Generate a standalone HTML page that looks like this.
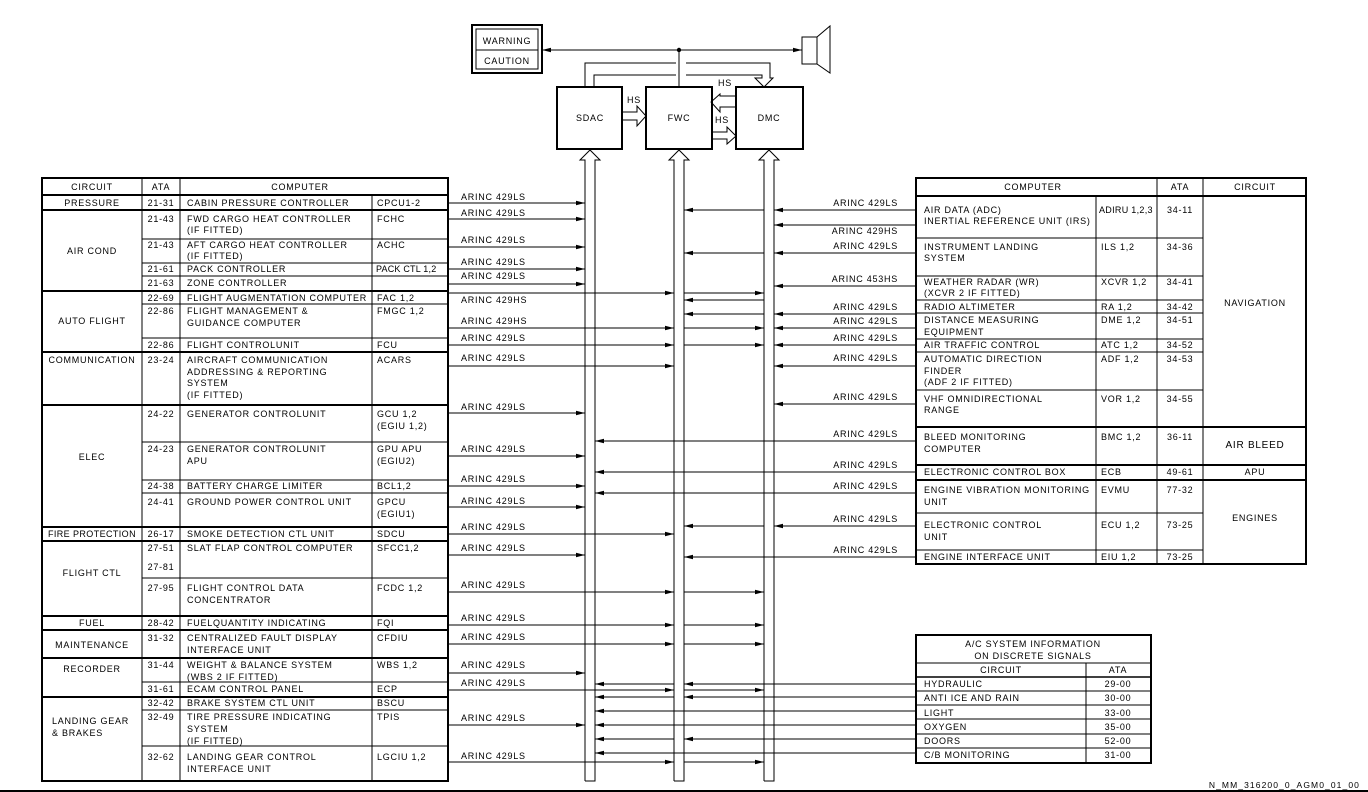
<!DOCTYPE html>
<html><head><meta charset="utf-8"><style>
html,body{margin:0;padding:0;background:#fff}
svg{display:block}
text{font-family:"Liberation Sans",Arial,sans-serif;font-size:9px;letter-spacing:0.75px;fill:#000}
.c{text-anchor:middle}.e{text-anchor:end}
.t{stroke:#000;stroke-width:1;fill:none}
.k{stroke:#000;stroke-width:2;fill:none}
.l{stroke:#000;stroke-width:1;fill:none;marker-end:url(#a)}
</style></head><body>
<svg width="1368" height="792" viewBox="0 0 1368 792" xmlns="http://www.w3.org/2000/svg">
<defs><marker id="a" markerWidth="9" markerHeight="6" refX="9" refY="3" orient="auto" markerUnits="userSpaceOnUse"><path d="M0,0.8 L9,3 L0,5.2z" fill="#000"/></marker></defs>

<rect x="472" y="25" width="70" height="48" class="k"/>
<rect x="476" y="29" width="62" height="40" class="t"/>
<line x1="476" y1="50" x2="538" y2="50" class="t"/>
<text x="507" y="44" class="c">WARNING</text>
<text x="507" y="64" class="c">CAUTION</text>
<line x1="679" y1="50" x2="542" y2="50" class="l"/>
<line x1="679" y1="50" x2="802" y2="50" class="l"/>
<circle cx="679" cy="50" r="2.2" fill="#000"/>
<rect x="802" y="37" width="15" height="27" class="t"/>
<path d="M817,37 L830,26 V73 L817,64" class="t"/>
<line x1="679" y1="50" x2="679" y2="87" class="t"/>
<path d="M585,87 V63 H676 M686,63 H770 V78 H773 L764,87 L755,78 H762 V75 H686 M676,75 H594 V87" class="t"/>

<rect x="557" y="87" width="65" height="62" class="k"/>
<rect x="646" y="87" width="66" height="62" class="k"/>
<rect x="736" y="87" width="67" height="62" class="k"/>
<text x="590" y="121" class="c">SDAC</text>
<text x="679" y="121" class="c">FWC</text>
<text x="769" y="121" class="c">DMC</text>
<path d="M622,112 H637 V106 L646,116 L637,126 V120 H622" fill="#fff" class="t"/>
<text x="634" y="103" class="c">HS</text>
<path d="M736,96 H720 V94 L711,102 L720,112 V107 H736" fill="#fff" class="t"/>
<text x="725" y="86" class="c">HS</text>
<path d="M712,132 H727 V127 L736,136 L727,144 V139 H712" fill="#fff" class="t"/>
<text x="722" y="123" class="c">HS</text>

<path d="M585,781 V160 H580 L590,150 L600,160 H595 V781 H585" class="t"/>
<path d="M674,781 V160 H669 L679,150 L689,160 H684 V781 H674" class="t"/>
<path d="M764,781 V160 H759 L769,150 L779,160 H774 V781 H764" class="t"/>

<g>
<line x1="448" y1="203" x2="585" y2="203" class="l"/><text x="461" y="200">ARINC 429LS</text>
<line x1="448" y1="219" x2="585" y2="219" class="l"/><text x="461" y="216">ARINC 429LS</text>
<line x1="448" y1="247" x2="585" y2="247" class="l"/><text x="461" y="243">ARINC 429LS</text>
<line x1="448" y1="269" x2="585" y2="269" class="l"/><text x="461" y="265">ARINC 429LS</text>
<line x1="448" y1="284" x2="585" y2="284" class="l"/><text x="461" y="279">ARINC 429LS</text>
<line x1="448" y1="293" x2="674" y2="293" class="l"/><line x1="684" y1="293" x2="764" y2="293" class="l"/><text x="461" y="303">ARINC 429HS</text>
<line x1="448" y1="328" x2="674" y2="328" class="l"/><line x1="684" y1="328" x2="764" y2="328" class="l"/><text x="461" y="324">ARINC 429HS</text>
<line x1="448" y1="345" x2="674" y2="345" class="l"/><line x1="684" y1="345" x2="764" y2="345" class="l"/><text x="461" y="341">ARINC 429LS</text>
<line x1="448" y1="366" x2="674" y2="366" class="l"/><text x="461" y="361">ARINC 429LS</text>
<line x1="448" y1="413" x2="585" y2="413" class="l"/><text x="461" y="410">ARINC 429LS</text>
<line x1="448" y1="456" x2="585" y2="456" class="l"/><text x="461" y="452">ARINC 429LS</text>
<line x1="448" y1="486" x2="585" y2="486" class="l"/><text x="461" y="482">ARINC 429LS</text>
<line x1="448" y1="507" x2="585" y2="507" class="l"/><text x="461" y="504">ARINC 429LS</text>
<line x1="448" y1="534" x2="674" y2="534" class="l"/><text x="461" y="530">ARINC 429LS</text>
<line x1="448" y1="555" x2="585" y2="555" class="l"/><text x="461" y="551">ARINC 429LS</text>
<line x1="448" y1="592" x2="674" y2="592" class="l"/><line x1="684" y1="592" x2="764" y2="592" class="l"/><text x="461" y="588">ARINC 429LS</text>
<line x1="448" y1="625" x2="674" y2="625" class="l"/><line x1="684" y1="625" x2="764" y2="625" class="l"/><text x="461" y="621">ARINC 429LS</text>
<line x1="448" y1="644" x2="674" y2="644" class="l"/><line x1="684" y1="644" x2="764" y2="644" class="l"/><text x="461" y="640">ARINC 429LS</text>
<line x1="448" y1="673" x2="585" y2="673" class="l"/><text x="461" y="668">ARINC 429LS</text>
<line x1="448" y1="690" x2="674" y2="690" class="l"/><line x1="684" y1="690" x2="764" y2="690" class="l"/><text x="461" y="686">ARINC 429LS</text>
<line x1="448" y1="725" x2="585" y2="725" class="l"/><text x="461" y="721">ARINC 429LS</text>
<line x1="448" y1="762" x2="674" y2="762" class="l"/><line x1="684" y1="762" x2="764" y2="762" class="l"/><text x="461" y="759">ARINC 429LS</text>
</g>

<g>
<line x1="916" y1="210" x2="774" y2="210" class="l"/><line x1="764" y1="210" x2="684" y2="210" class="l"/><text x="898" y="206" class="e">ARINC 429LS</text>
<line x1="916" y1="225" x2="774" y2="225" class="l"/><text x="898" y="234" class="e">ARINC 429HS</text>
<line x1="916" y1="253" x2="774" y2="253" class="l"/><line x1="764" y1="253" x2="684" y2="253" class="l"/><text x="898" y="249" class="e">ARINC 429LS</text>
<line x1="916" y1="286" x2="774" y2="286" class="l"/><text x="898" y="282" class="e">ARINC 453HS</text>
<line x1="764" y1="300" x2="684" y2="300" class="l"/>
<line x1="916" y1="314" x2="774" y2="314" class="l"/><line x1="764" y1="314" x2="684" y2="314" class="l"/><text x="898" y="310" class="e">ARINC 429LS</text>
<line x1="916" y1="328" x2="774" y2="328" class="l"/><text x="898" y="324" class="e">ARINC 429LS</text>
<line x1="916" y1="345" x2="774" y2="345" class="l"/><text x="898" y="341" class="e">ARINC 429LS</text>
<line x1="916" y1="366" x2="774" y2="366" class="l"/><text x="898" y="361" class="e">ARINC 429LS</text>
<line x1="916" y1="404" x2="774" y2="404" class="l"/><text x="898" y="400" class="e">ARINC 429LS</text>
<line x1="916" y1="441" x2="595" y2="441" class="l"/><text x="898" y="437" class="e">ARINC 429LS</text>
<line x1="916" y1="472" x2="595" y2="472" class="l"/><text x="898" y="468" class="e">ARINC 429LS</text>
<line x1="916" y1="493" x2="595" y2="493" class="l"/><text x="898" y="489" class="e">ARINC 429LS</text>
<line x1="916" y1="526" x2="774" y2="526" class="l"/><line x1="764" y1="526" x2="684" y2="526" class="l"/><text x="898" y="522" class="e">ARINC 429LS</text>
<line x1="916" y1="557" x2="684" y2="557" class="l"/><text x="898" y="553" class="e">ARINC 429LS</text>
<line x1="916" y1="684" x2="684" y2="684" class="l"/><line x1="674" y1="684" x2="595" y2="684" class="l"/>
<line x1="916" y1="697" x2="684" y2="697" class="l"/><line x1="674" y1="697" x2="595" y2="697" class="l"/>
<line x1="916" y1="711" x2="595" y2="711" class="l"/>
<line x1="916" y1="725" x2="595" y2="725" class="l"/>
<line x1="916" y1="739" x2="684" y2="739" class="l"/><line x1="674" y1="739" x2="595" y2="739" class="l"/>
<line x1="916" y1="753" x2="595" y2="753" class="l"/>
</g>

<g>
<rect x="42" y="178" width="406" height="603" class="k"/>
<g class="k">
<line x1="42" y1="195" x2="448" y2="195"/><line x1="42" y1="210" x2="448" y2="210"/>
<line x1="42" y1="291" x2="448" y2="291"/><line x1="42" y1="352" x2="448" y2="352"/>
<line x1="42" y1="405" x2="448" y2="405"/><line x1="42" y1="527" x2="448" y2="527"/>
<line x1="42" y1="541" x2="448" y2="541"/><line x1="42" y1="616" x2="448" y2="616"/>
<line x1="42" y1="630" x2="448" y2="630"/><line x1="42" y1="658" x2="448" y2="658"/>
<line x1="42" y1="697" x2="448" y2="697"/>
</g>
<g class="t">
<line x1="142" y1="178" x2="142" y2="781"/><line x1="180" y1="178" x2="180" y2="781"/>
<line x1="372" y1="195" x2="372" y2="781"/>
<line x1="142" y1="239" x2="448" y2="239"/><line x1="142" y1="263" x2="448" y2="263"/>
<line x1="142" y1="276" x2="448" y2="276"/><line x1="142" y1="304" x2="448" y2="304"/>
<line x1="142" y1="338" x2="448" y2="338"/><line x1="142" y1="442" x2="448" y2="442"/>
<line x1="142" y1="480" x2="448" y2="480"/><line x1="142" y1="493" x2="448" y2="493"/>
<line x1="142" y1="578" x2="448" y2="578"/><line x1="142" y1="682" x2="448" y2="682"/>
<line x1="142" y1="710" x2="448" y2="710"/><line x1="142" y1="746" x2="448" y2="746"/>
</g>
<text x="92" y="190" class="c">CIRCUIT</text><text x="161" y="190" class="c">ATA</text><text x="300" y="190" class="c">COMPUTER</text>
<text x="92" y="206" class="c">PRESSURE</text><text x="161" y="206" class="c">21-31</text><text x="187" y="206">CABIN PRESSURE CONTROLLER</text><text x="377" y="206">CPCU1-2</text>
<text x="92" y="254" class="c">AIR COND</text>
<text x="161" y="222" class="c">21-43</text><text x="187" y="222">FWD CARGO HEAT CONTROLLER</text><text x="187" y="233">(IF FITTED)</text><text x="377" y="222">FCHC</text>
<text x="161" y="248" class="c">21-43</text><text x="187" y="248">AFT CARGO HEAT CONTROLLER</text><text x="187" y="259">(IF FITTED)</text><text x="377" y="248">ACHC</text>
<text x="161" y="272" class="c">21-61</text><text x="187" y="272">PACK CONTROLLER</text><text x="376" y="272" style="letter-spacing:0.2px">PACK CTL 1,2</text>
<text x="161" y="286" class="c">21-63</text><text x="187" y="286">ZONE CONTROLLER</text>
<text x="92" y="324" class="c">AUTO FLIGHT</text>
<text x="161" y="301" class="c">22-69</text><text x="187" y="301">FLIGHT AUGMENTATION COMPUTER</text><text x="377" y="301">FAC 1,2</text>
<text x="161" y="314" class="c">22-86</text><text x="187" y="314">FLIGHT MANAGEMENT &amp;</text><text x="187" y="326">GUIDANCE COMPUTER</text><text x="377" y="314">FMGC 1,2</text>
<text x="161" y="348" class="c">22-86</text><text x="187" y="348">FLIGHT CONTROLUNIT</text><text x="377" y="348">FCU</text>
<text x="92" y="363" class="c">COMMUNICATION</text><text x="161" y="363" class="c">23-24</text>
<text x="187" y="363">AIRCRAFT COMMUNICATION</text><text x="187" y="375">ADDRESSING &amp; REPORTING</text><text x="187" y="386">SYSTEM</text><text x="187" y="398">(IF FITTED)</text><text x="377" y="363">ACARS</text>
<text x="92" y="460" class="c">ELEC</text>
<text x="161" y="417" class="c">24-22</text><text x="187" y="417">GENERATOR CONTROLUNIT</text><text x="377" y="417">GCU 1,2</text><text x="377" y="429">(EGIU 1,2)</text>
<text x="161" y="452" class="c">24-23</text><text x="187" y="452">GENERATOR CONTROLUNIT</text><text x="187" y="464">APU</text><text x="377" y="452">GPU APU</text><text x="377" y="464">(EGIU2)</text>
<text x="161" y="489" class="c">24-38</text><text x="187" y="489">BATTERY CHARGE LIMITER</text><text x="377" y="489">BCL1,2</text>
<text x="161" y="505" class="c">24-41</text><text x="187" y="505">GROUND POWER CONTROL UNIT</text><text x="377" y="505">GPCU</text><text x="377" y="517">(EGIU1)</text>
<text x="92" y="537" class="c" style="letter-spacing:0.4px">FIRE PROTECTION</text><text x="161" y="537" class="c">26-17</text><text x="187" y="537">SMOKE DETECTION CTL UNIT</text><text x="377" y="537">SDCU</text>
<text x="92" y="576" class="c">FLIGHT CTL</text>
<text x="161" y="551" class="c">27-51</text><text x="161" y="570" class="c">27-81</text><text x="187" y="551">SLAT FLAP CONTROL COMPUTER</text><text x="377" y="551">SFCC1,2</text>
<text x="161" y="591" class="c">27-95</text><text x="187" y="591">FLIGHT CONTROL DATA</text><text x="187" y="603">CONCENTRATOR</text><text x="377" y="591">FCDC 1,2</text>
<text x="92" y="626" class="c">FUEL</text><text x="161" y="626" class="c">28-42</text><text x="187" y="626">FUELQUANTITY INDICATING</text><text x="377" y="626">FQI</text>
<text x="92" y="648" class="c">MAINTENANCE</text><text x="161" y="641" class="c">31-32</text><text x="187" y="641">CENTRALIZED FAULT DISPLAY</text><text x="187" y="653">INTERFACE UNIT</text><text x="377" y="641">CFDIU</text>
<text x="92" y="672" class="c">RECORDER</text><text x="161" y="668" class="c">31-44</text><text x="187" y="668">WEIGHT &amp; BALANCE SYSTEM</text><text x="187" y="680">(WBS 2 IF FITTED)</text><text x="377" y="668">WBS 1,2</text>
<text x="161" y="692" class="c">31-61</text><text x="187" y="692">ECAM CONTROL PANEL</text><text x="377" y="692">ECP</text>
<text x="52" y="724">LANDING GEAR</text><text x="52" y="736">&amp; BRAKES</text>
<text x="161" y="706" class="c">32-42</text><text x="187" y="706">BRAKE SYSTEM CTL UNIT</text><text x="377" y="706">BSCU</text>
<text x="161" y="720" class="c">32-49</text><text x="187" y="720">TIRE PRESSURE INDICATING</text><text x="187" y="732">SYSTEM</text><text x="187" y="744">(IF FITTED)</text><text x="377" y="720">TPIS</text>
<text x="161" y="760" class="c">32-62</text><text x="187" y="760">LANDING GEAR CONTROL</text><text x="187" y="772">INTERFACE UNIT</text><text x="377" y="760">LGCIU 1,2</text>
</g>

<g>
<rect x="916" y="178" width="390" height="386" class="k"/>
<g class="k">
<line x1="916" y1="196" x2="1306" y2="196"/><line x1="916" y1="427" x2="1306" y2="427"/>
<line x1="916" y1="465" x2="1306" y2="465"/><line x1="916" y1="480" x2="1306" y2="480"/>
</g>
<g class="t">
<line x1="1157" y1="178" x2="1157" y2="564"/><line x1="1203" y1="178" x2="1203" y2="564"/>
<line x1="1096" y1="196" x2="1096" y2="564"/>
<line x1="916" y1="238" x2="1203" y2="238"/><line x1="916" y1="276" x2="1203" y2="276"/>
<line x1="916" y1="300" x2="1203" y2="300"/><line x1="916" y1="313" x2="1203" y2="313"/>
<line x1="916" y1="339" x2="1203" y2="339"/><line x1="916" y1="352" x2="1203" y2="352"/>
<line x1="916" y1="390" x2="1203" y2="390"/><line x1="916" y1="513" x2="1203" y2="513"/>
<line x1="916" y1="550" x2="1203" y2="550"/>
</g>
<text x="1033" y="190" class="c">COMPUTER</text><text x="1180" y="190" class="c">ATA</text><text x="1255" y="190" class="c">CIRCUIT</text>
<text x="924" y="213">AIR DATA (ADC)</text><text x="924" y="224">INERTIAL REFERENCE UNIT (IRS)</text><text x="1099" y="213" style="letter-spacing:0.3px">ADIRU 1,2,3</text><text x="1180" y="213" class="c">34-11</text>
<text x="924" y="250">INSTRUMENT LANDING</text><text x="924" y="261">SYSTEM</text><text x="1101" y="250">ILS 1,2</text><text x="1180" y="250" class="c">34-36</text>
<text x="924" y="285">WEATHER RADAR (WR)</text><text x="924" y="296">(XCVR 2 IF FITTED)</text><text x="1101" y="285">XCVR 1,2</text><text x="1180" y="285" class="c">34-41</text>
<text x="924" y="310">RADIO ALTIMETER</text><text x="1101" y="310">RA 1,2</text><text x="1180" y="310" class="c">34-42</text>
<text x="924" y="323">DISTANCE MEASURING</text><text x="924" y="335">EQUIPMENT</text><text x="1101" y="323">DME 1,2</text><text x="1180" y="323" class="c">34-51</text>
<text x="924" y="348">AIR TRAFFIC CONTROL</text><text x="1101" y="348">ATC 1,2</text><text x="1180" y="348" class="c">34-52</text>
<text x="924" y="362">AUTOMATIC DIRECTION</text><text x="924" y="374">FINDER</text><text x="924" y="385">(ADF 2 IF FITTED)</text><text x="1101" y="362">ADF 1,2</text><text x="1180" y="362" class="c">34-53</text>
<text x="924" y="402">VHF OMNIDIRECTIONAL</text><text x="924" y="413">RANGE</text><text x="1101" y="402">VOR 1,2</text><text x="1180" y="402" class="c">34-55</text>
<text x="1255" y="306" class="c">NAVIGATION</text>
<text x="924" y="440">BLEED MONITORING</text><text x="924" y="452">COMPUTER</text><text x="1101" y="440">BMC 1,2</text><text x="1180" y="440" class="c">36-11</text>
<text x="1255" y="448" class="c" style="font-size:10px">AIR BLEED</text>
<text x="924" y="475">ELECTRONIC CONTROL BOX</text><text x="1101" y="475">ECB</text><text x="1180" y="475" class="c">49-61</text><text x="1255" y="475" class="c">APU</text>
<text x="924" y="493">ENGINE VIBRATION MONITORING</text><text x="924" y="505">UNIT</text><text x="1101" y="493">EVMU</text><text x="1180" y="493" class="c">77-32</text>
<text x="924" y="528">ELECTRONIC CONTROL</text><text x="924" y="540">UNIT</text><text x="1101" y="528">ECU 1,2</text><text x="1180" y="528" class="c">73-25</text>
<text x="924" y="560">ENGINE INTERFACE UNIT</text><text x="1101" y="560">EIU 1,2</text><text x="1180" y="560" class="c">73-25</text>
<text x="1255" y="521" class="c">ENGINES</text>
</g>

<g>
<rect x="916" y="635" width="235" height="128" class="k"/>
<g class="t">
<line x1="916" y1="663" x2="1151" y2="663"/><line x1="916" y1="677" x2="1151" y2="677" style="stroke-width:1.6"/>
<line x1="1086" y1="663" x2="1086" y2="763"/>
<line x1="916" y1="691" x2="1151" y2="691"/><line x1="916" y1="705" x2="1151" y2="705"/>
<line x1="916" y1="719" x2="1151" y2="719"/><line x1="916" y1="734" x2="1151" y2="734"/>
<line x1="916" y1="748" x2="1151" y2="748"/>
</g>
<text x="1033" y="647" class="c">A/C SYSTEM INFORMATION</text><text x="1033" y="659" class="c">ON DISCRETE SIGNALS</text>
<text x="1001" y="673" class="c">CIRCUIT</text><text x="1118" y="673" class="c">ATA</text>
<text x="924" y="687">HYDRAULIC</text><text x="1118" y="687" class="c">29-00</text>
<text x="924" y="701">ANTI ICE AND RAIN</text><text x="1118" y="701" class="c">30-00</text>
<text x="924" y="716">LIGHT</text><text x="1118" y="716" class="c">33-00</text>
<text x="924" y="730">OXYGEN</text><text x="1118" y="730" class="c">35-00</text>
<text x="924" y="744">DOORS</text><text x="1118" y="744" class="c">52-00</text>
<text x="924" y="758">C/B MONITORING</text><text x="1118" y="758" class="c">31-00</text>
</g>

<line x1="0" y1="791" x2="1368" y2="791" class="k"/>
<text x="1360" y="788" class="e" style="font-size:8.5px;letter-spacing:1.1px">N_MM_316200_0_AGM0_01_00</text>
</svg>
</body></html>
